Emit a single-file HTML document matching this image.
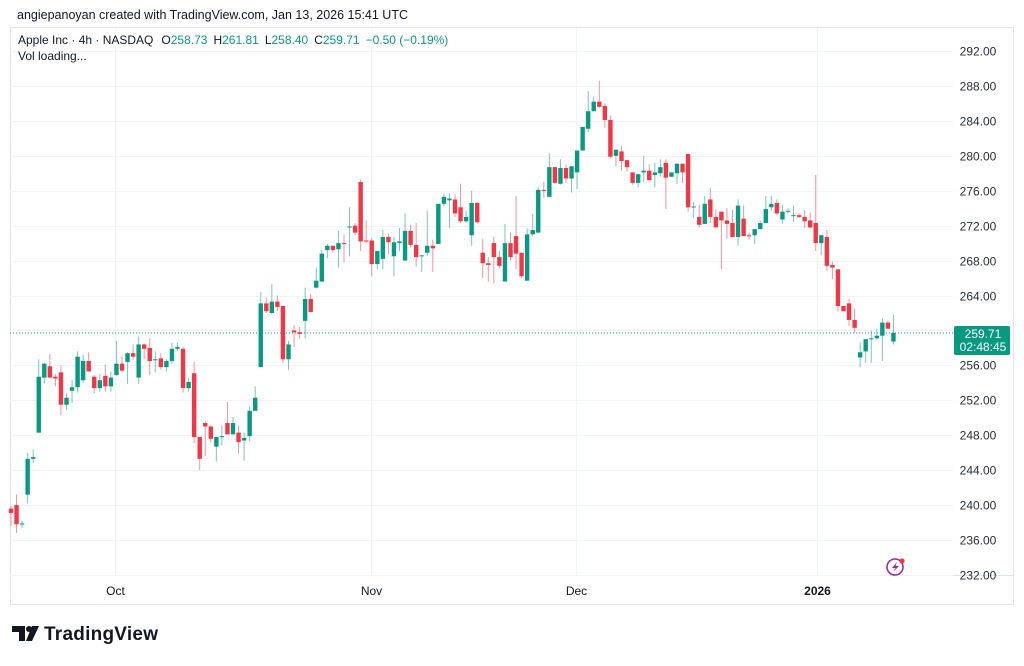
<!DOCTYPE html>
<html><head><meta charset="utf-8"><style>
html,body{margin:0;padding:0;background:#fff;}
body{width:1024px;height:661px;overflow:hidden;font-family:"Liberation Sans",sans-serif;}
svg text{font-family:"Liberation Sans",sans-serif;}
</style></head><body>
<svg id="chart" width="1024" height="661" xmlns="http://www.w3.org/2000/svg">
<text x="17" y="19" font-size="12.5" fill="#131722">angiepanoyan created with TradingView.com, Jan 13, 2026 15:41 UTC</text>
<rect x="10.5" y="27.5" width="1003" height="577" fill="none" stroke="#e0e3eb"/>
<line x1="10" y1="575.5" x2="1013" y2="575.5" stroke="#e0e3eb"/>
<g id="grid"></g>
<g id="candles"></g>
<g id="axis"></g>
<g font-size="12">
<text x="18" y="44" fill="#131722"><tspan>Apple Inc · 4h · NASDAQ</tspan><tspan dx="8" fill="#131722">O</tspan><tspan fill="#089981">258.73</tspan><tspan dx="6" fill="#131722">H</tspan><tspan fill="#089981">261.81</tspan><tspan dx="6" fill="#131722">L</tspan><tspan fill="#089981">258.40</tspan><tspan dx="6" fill="#131722">C</tspan><tspan fill="#089981">259.71</tspan><tspan dx="6" fill="#089981">−0.50 (−0.19%)</tspan></text>
<text x="18" y="60" fill="#131722">Vol loading...</text>
</g>
<g>
<rect x="954" y="326" width="56" height="29" rx="2" fill="#089981"/>
<text x="983" y="338" font-size="12" fill="#fff" text-anchor="middle">259.71</text>
<text x="983" y="351" font-size="12" fill="#fff" text-anchor="middle">02:48:45</text>
</g>
<g>
<circle cx="895" cy="567" r="8" fill="none" stroke="#9c27b0" stroke-width="1.6"/>
<path d="M897 562 L892 568 L895.5 568 L893 572 L899 566 L895.5 566 Z" fill="#9c27b0"/>
<circle cx="902" cy="561" r="2.6" fill="#f23645"/>
</g>
<g>
<path d="M12 626 H25 V641 H19 V632 H12 Z" fill="#131722"/>
<circle cx="29" cy="629" r="3" fill="#131722"/>
<path d="M32 626 H39 L32 641 H26 Z" fill="#131722"/>
<text x="44" y="640" font-size="19" font-weight="bold" fill="#131722" textLength="114">TradingView</text>
</g>
</svg>
<script>
const opens=[239.6,240.0,237.8,241.2,245.3,248.3,254.6,255.9,254.7,255.2,251.5,253.1,253.5,254.3,256.5,254.7,253.4,254.8,253.6,254.9,256.2,256.4,257.4,254.6,258.4,258.0,256.6,256.8,255.8,256.5,257.9,257.9,253.4,255.1,247.8,249.4,249.0,246.7,247.8,249.4,248.1,248.3,247.4,247.9,250.8,255.8,263.1,262.0,263.3,262.8,256.7,260.0,259.8,261.1,263.6,264.9,265.6,269.2,269.7,269.3,270.0,271.8,272.0,277.0,270.3,270.3,267.6,268.2,270.7,268.5,270.0,268.0,271.4,269.8,268.5,268.9,269.7,269.9,274.5,274.9,275.0,274.1,272.5,270.9,274.6,268.9,267.7,270.0,268.4,265.6,270.0,270.8,268.9,265.7,271.0,271.2,276.1,275.3,278.7,276.8,278.6,277.4,278.1,280.6,283.1,285.1,286.2,285.7,284.1,280.0,280.5,279.5,278.1,276.9,278.1,278.3,277.8,278.0,279.2,277.6,278.0,279.1,280.2,274.1,273.0,272.2,275.0,273.0,273.6,272.6,272.3,270.7,272.8,270.9,270.9,271.6,272.3,274.1,274.6,272.7,273.6,273.1,273.2,273.0,272.6,272.3,270.0,270.7,267.5,267.0,262.8,263.1,261.2,256.9,257.6,259.0,259.1,259.4,260.9,258.73];
const highs=[239.9,241.2,238.2,246.0,246.4,256.7,256.3,257.3,255.0,256.0,252.8,254.3,257.6,257.2,257.5,254.9,255.0,256.1,255.3,258.8,257.1,257.5,258.4,259.3,258.5,259.1,257.6,257.4,256.7,258.6,258.6,258.1,254.6,256.4,247.8,249.6,249.2,247.8,249.1,251.8,250.1,249.1,248.3,251.3,253.6,264.4,263.8,265.3,264.0,262.8,258.8,260.6,260.4,264.9,264.2,267.2,269.2,269.9,269.7,271.4,271.0,274.1,272.3,277.3,272.6,270.6,269.1,271.5,271.1,270.7,271.7,273.4,272.1,272.3,268.6,273.7,270.4,274.5,275.7,275.7,275.6,276.8,273.7,276.0,274.7,270.5,268.4,270.7,269.1,272.2,271.2,275.4,268.9,271.7,273.3,276.4,277.0,280.3,278.7,279.6,279.0,278.8,280.6,283.3,287.4,286.8,288.6,286.0,284.6,280.7,281.1,279.5,278.1,277.9,280.0,279.0,279.2,279.6,279.6,278.1,279.1,279.1,280.2,274.7,274.4,275.4,276.3,273.9,273.6,274.0,273.8,275.0,274.3,271.2,271.6,272.6,275.4,275.4,275.0,274.4,274.0,274.3,273.4,273.8,273.5,277.8,270.9,271.5,267.9,267.0,262.8,263.6,262.5,258.6,259.0,260.0,260.2,261.4,261.1,261.81];
const lows=[237.6,236.8,237.4,240.2,244.8,248.3,253.9,254.5,253.6,250.3,250.9,251.7,252.9,254.0,255.3,252.8,253.0,253.0,253.0,254.8,255.2,253.9,256.6,253.9,256.7,254.9,255.2,255.5,255.3,256.2,257.7,252.9,253.0,247.1,244.0,245.6,247.2,245.0,246.8,248.1,248.1,245.9,245.1,247.3,250.8,255.8,262.0,261.8,262.2,256.3,255.5,258.1,259.1,259.1,262.1,264.8,265.5,268.3,268.9,267.2,267.8,268.5,270.9,269.1,270.0,266.2,267.0,267.0,268.7,266.2,269.1,268.0,269.5,267.3,266.7,268.5,266.7,269.9,274.2,271.7,273.0,272.3,272.3,269.7,272.2,266.0,265.6,265.4,267.1,265.6,268.0,267.0,266.0,265.7,270.8,271.2,275.2,275.3,276.8,276.7,276.9,275.8,276.2,280.6,282.7,285.1,285.5,283.2,279.7,278.8,278.3,278.2,276.7,276.4,277.0,277.2,276.4,277.6,273.9,277.6,276.8,276.9,273.6,272.9,271.8,272.2,272.3,271.8,267.0,270.5,270.7,269.7,270.8,270.4,269.9,271.6,272.3,273.7,273.2,272.2,273.4,272.4,272.9,271.7,271.7,269.1,268.6,266.8,265.9,262.2,262.2,260.5,259.7,255.8,256.3,256.3,258.9,256.5,260.2,258.40];
const closes=[239.1,237.8,237.9,245.3,245.5,254.7,256.2,254.6,254.5,251.5,252.3,253.5,257.0,256.5,255.3,253.4,254.3,253.6,254.6,256.2,255.4,257.4,257.0,258.4,257.9,256.5,256.7,255.8,256.5,257.9,258.1,253.4,254.1,247.8,245.3,249.0,247.6,247.8,247.9,248.1,249.4,247.2,247.7,250.8,252.3,263.1,262.2,263.3,262.7,256.7,258.4,259.8,259.6,263.6,262.1,265.7,268.8,269.7,269.2,270.0,269.9,271.9,271.2,270.2,270.2,267.6,269.1,270.7,270.1,270.1,270.2,271.4,269.8,268.4,268.6,269.7,269.4,274.5,275.3,275.1,273.4,272.5,273.0,274.6,272.4,267.7,267.5,268.4,267.4,270.0,268.4,268.8,266.2,271.0,271.5,276.1,276.0,278.7,276.9,278.6,277.4,278.8,280.6,283.3,285.1,286.2,285.6,284.1,279.9,280.7,279.4,278.7,276.9,277.9,278.3,277.2,278.1,278.7,277.5,278.1,279.1,278.1,274.1,274.2,272.1,274.5,273.0,271.8,272.6,272.2,270.7,274.3,270.8,270.8,271.6,272.3,273.9,274.5,273.4,273.6,273.7,273.2,273.0,272.5,271.8,270.0,270.9,267.4,267.2,262.8,262.2,261.2,260.3,257.5,259.0,259.1,259.4,260.9,260.2,259.71];
const priceTicks=[292,288,284,280,276,272,268,264,260,256,252,248,244,240,236,232];
const timeLabels=["Oct","Nov","Dec","2026"];
const timeLabelIndex=[18.8,64.9,101.8,145.2];
const lastPrice=259.71;

const NS="http://www.w3.org/2000/svg";
function yScale(p){return 51+(292-p)*8.733;}
function xScale(i){return 11+i*5.55;}
function mk(tag,attrs,parent){const e=document.createElementNS(NS,tag);for(const k in attrs)e.setAttribute(k,attrs[k]);parent.appendChild(e);return e;}
const grid=document.getElementById('grid'),axis=document.getElementById('axis'),cg=document.getElementById('candles');
priceTicks.forEach(p=>{
  const y=Math.round(yScale(p))+0.5;
  const l=mk('line',{x1:10,x2:953,y1:y,y2:y,stroke:'#f0f3fa'},grid);
  
  
  const t=mk('text',{x:978,y:y+4,'font-size':12,fill:'#2a2e39','text-anchor':'middle'},axis);
  t.textContent=p.toFixed(2);
  
  
});
timeLabels.forEach((lab,k)=>{
  const x=Math.round(xScale(timeLabelIndex[k]))+0.5;
  const l=mk('line',{x1:x,x2:x,y1:28,y2:575,stroke:'#f0f3fa'},grid);
  
  
  const t=mk('text',{x:x,y:595,'font-size':12,fill:'#131722','text-anchor':'middle','font-weight':lab==='2026'?'bold':'normal'},axis);
  t.textContent=lab;
  
  
});
const ly=yScale(lastPrice);
const dl=mk('line',{x1:10,x2:954,y1:ly,y2:ly,stroke:'#089981','stroke-dasharray':'1,2','stroke-width':1},grid);


for(let i=0;i<opens.length;i++){
  const o=opens[i],h=highs[i],l=lows[i],c=closes[i];
  const col=c>=o?'#089981':'#f23645';
  const x=xScale(i);
  const g=mk('g',{},cg);
  
  
  mk('line',{x1:x,x2:x,y1:yScale(h),y2:yScale(l),stroke:col,'stroke-opacity':0.55,'stroke-width':1},g);
  const top=yScale(Math.max(o,c)),bot=yScale(Math.min(o,c));
  mk('rect',{x:x-2.2,y:top,width:4.4,height:Math.max(1,bot-top),fill:col},g);
}
</script>
</body></html>
